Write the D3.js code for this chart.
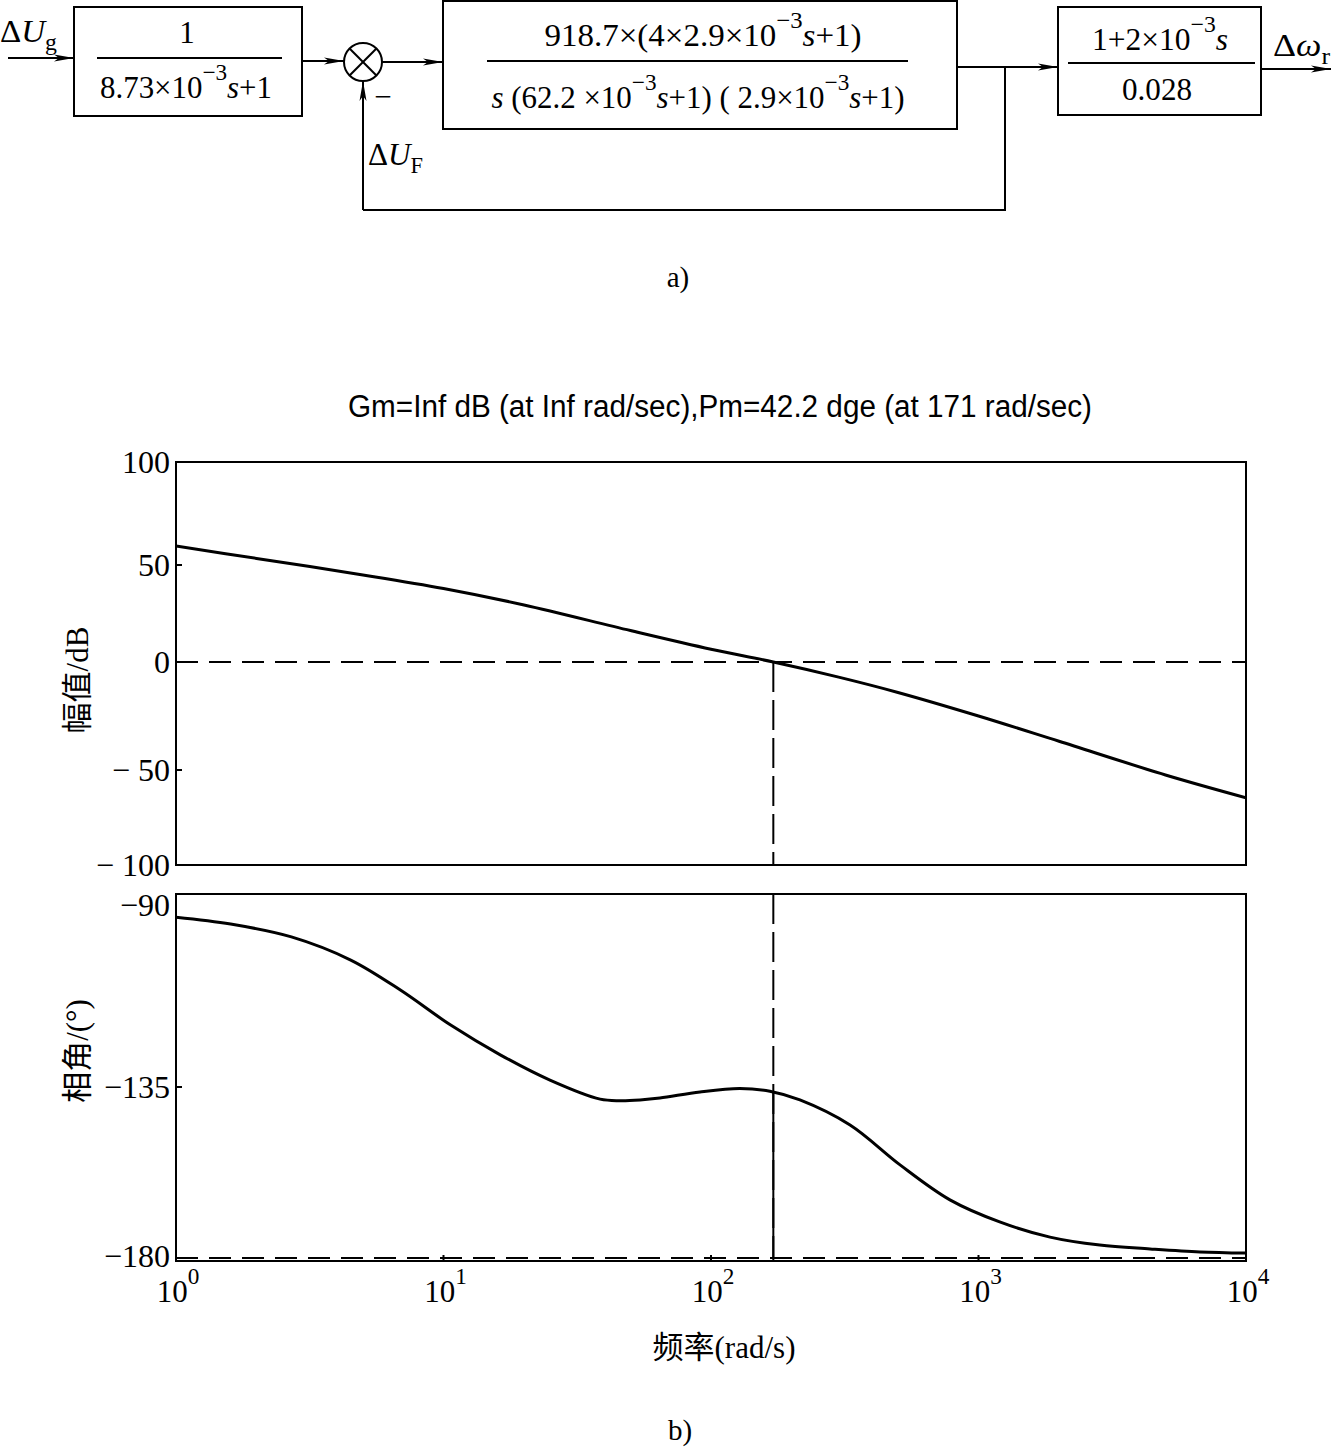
<!DOCTYPE html>
<html><head><meta charset="utf-8">
<script src="https://cdn.jsdelivr.net/npm/d3@7"></script>
<style>body{margin:0;background:#fff}svg{display:block}</style>
</head><body><div id="chart"></div>
<script>
// ---------- data ----------
const freqTicks = [1, 10, 100, 1000, 10000];
const freqTickExp = ["0", "1", "2", "3", "4"];
const magTicks = [100, 50, 0, -50, -100];
const phaseTicks = [-90, -135, -180];
const magFreq = [1, 2, 5, 10, 20, 50, 100, 171, 300, 500, 1000, 2000, 5000, 10000];
const magDb   = [59.2, 53.2, 44.9, 37.9, 29.4, 16.2, 6.6, 0, -7.0, -14.1, -25.0, -36.7, -52.6, -64.6];
const phaseFreq = [1, 1.6, 2.7, 4.5, 6.9, 10.6, 16.3, 25, 38.5, 45.7, 54.3, 64.4, 91, 128, 166, 215, 331, 509, 782, 1200, 1850, 2840, 4380, 6730, 10000];
const phaseDeg  = [-95.4, -97.0, -100.0, -105.4, -112.4, -120.5, -127.5, -133.4, -138.2, -138.6, -138.4, -137.9, -136.3, -135.4, -136.1, -138.4, -145.0, -155.5, -164.7, -170.5, -174.5, -176.6, -177.6, -178.4, -178.7];
const crossFreq = 171;
const phaseMargin = 42.2;
const titleText = "Gm=Inf dB (at Inf rad/sec),Pm=42.2 dge (at 171 rad/sec)";
const magLabel = "幅值/dB";
const phaseLabel = "相角/(°)";
const xLabel = "频率(rad/s)";

const W = 1331, H = 1447;
const SERIF = "'Liberation Serif','Times New Roman',serif";
const CJK = "'Liberation Serif','Noto Sans CJK SC',serif";

const svg = d3.select("#chart").append("svg").attr("width", W).attr("height", H)
  .attr("viewBox", `0 0 ${W} ${H}`);
svg.append("rect").attr("width", W).attr("height", H).attr("fill", "#fff");

const defs = svg.append("defs");
defs.append("marker").attr("id", "arr").attr("viewBox", "0 0 20 10")
  .attr("refX", 20).attr("refY", 5).attr("markerWidth", 20).attr("markerHeight", 10)
  .attr("markerUnits", "userSpaceOnUse").attr("orient", "auto")
  .append("path").attr("d", "M0,1.5 L20,5 L0,8.5 L5,5 Z").attr("fill", "#000");

// rich text helper: parts = [[text, kind]] kind: n, i, sup, sub
function rich(g, x, y, parts, size, anchor, len) {
  const t = g.append("text").attr("x", x).attr("y", y).attr("font-family", SERIF)
    .attr("font-size", size).attr("text-anchor", anchor || "middle").attr("fill", "#000");
  if (len) t.attr("textLength", len).attr("lengthAdjust", "spacingAndGlyphs");
  let shift = 0;
  parts.forEach(([s, k]) => {
    const sp = t.append("tspan").text(s);
    let target = 0;
    if (k === "sup") { target = -size * 0.58; sp.attr("font-size", size * 0.75); }
    else if (k === "sub") { target = size * 0.25; sp.attr("font-size", size * 0.72); }
    if (k === "i") sp.attr("font-style", "italic");
    if (target !== shift) { sp.attr("dy", target - shift); shift = target; }
  });
  return t;
}

// ---------- block diagram (a) ----------
const bd = svg.append("g").attr("stroke", "#000").attr("stroke-width", 2).attr("fill", "none");
const FS = 31;
const boxes = [
  {x: 74, y: 7, w: 228, h: 109},
  {x: 443, y: 1, w: 514, h: 128},
  {x: 1058, y: 7, w: 203, h: 108}
];
boxes.forEach(b => bd.append("rect").attr("x", b.x).attr("y", b.y).attr("width", b.w).attr("height", b.h));
[[97, 282, 58], [487, 908, 61], [1068, 1255, 63]].forEach(([a, b, y]) =>
  bd.append("line").attr("x1", a).attr("x2", b).attr("y1", y).attr("y2", y));
const cx = 363, cy = 62, r = 19;
bd.append("circle").attr("cx", cx).attr("cy", cy).attr("r", r);
const dd = r * Math.SQRT1_2;
bd.append("line").attr("x1", cx - dd).attr("y1", cy - dd).attr("x2", cx + dd).attr("y2", cy + dd);
bd.append("line").attr("x1", cx - dd).attr("y1", cy + dd).attr("x2", cx + dd).attr("y2", cy - dd);
const arrowLine = (pts) => bd.append("path").attr("d", d3.line()(pts)).attr("marker-end", "url(#arr)");
arrowLine([[8, 58], [74, 58]]);
arrowLine([[302, 61], [cx - r, 61]]);
arrowLine([[cx + r, 62], [443, 62]]);
arrowLine([[957, 67], [1058, 67]]);
arrowLine([[1261, 69], [1331, 69]]);
bd.append("path").attr("d", d3.line()([[1005, 67], [1005, 210], [cx, 210]]));
arrowLine([[cx, 210], [cx, cy + r]]);

const tg = svg.append("g");
rich(tg, 187, 43, [["1"]], FS);
rich(tg, 186, 98, [["8.73×10"], ["−3", "sup"], ["s", "i"], ["+1"]], FS, "middle", 172);
rich(tg, 703, 46, [["918.7×(4×2.9×10"], ["−3", "sup"], ["s", "i"], ["+1)"]], FS, "middle", 317);
rich(tg, 698, 108, [["s", "i"], [" (62.2 ×10"], ["−3", "sup"], ["s", "i"], ["+1) ( 2.9×10"], ["−3", "sup"], ["s", "i"], ["+1)"]], FS, "middle", 413);
rich(tg, 1160, 50, [["1+2×10"], ["−3", "sup"], ["s", "i"]], FS, "middle", 136);
rich(tg, 1157, 100, [["0.028"]], FS, "middle", 70);
rich(tg, 0, 42, [["Δ"], ["U", "i"], ["g", "sub"]], FS, "start", 57);
rich(tg, 368, 165, [["Δ"], ["U", "i"], ["F", "sub"]], FS, "start", 55);
rich(tg, 1273, 56, [["Δ"], ["ω", "i"], ["r", "sub"]], FS, "start", 57);
rich(tg, 383, 107, [["−"]], FS, "middle");
rich(tg, 678, 287, [["a)"]], 29);

// ---------- Bode plot (b) ----------
const x = d3.scaleLog().domain([1, 1e4]).range([176, 1246]);
const yMag = d3.scaleLinear().domain([-100, -50, 0, 50, 100]).range([865, 770, 662, 565, 462]);
const yPh = d3.scaleLinear().domain([-180.8, -180, -135, -90]).range([1261, 1258, 1087, 894]);
const magTop = 462, magBot = 865, phTop = 894, phBot = 1261;

svg.append("text").attr("x", 720).attr("y", 417).attr("text-anchor", "middle")
  .attr("font-family", "'Liberation Sans Narrow','Liberation Sans',sans-serif")
  .attr("font-size", 31).attr("textLength", 744).attr("lengthAdjust", "spacingAndGlyphs")
  .text(titleText);

function panel(y, top, bot, ticks, fmt, labelShift, data, clipId) {
  const g = svg.append("g");
  const [x0, x1] = x.range();
  defs.append("clipPath").attr("id", clipId).append("rect")
    .attr("x", x0).attr("y", top).attr("width", x1 - x0).attr("height", bot - top);
  ticks.forEach(v => {
    g.append("line").attr("x1", x0).attr("x2", x0 + 6).attr("y1", y(v)).attr("y2", y(v))
      .attr("stroke", "#000").attr("stroke-width", 2);
    g.append("text").attr("x", x0 - 6).attr("y", y(v) + (labelShift[v] || 0)).attr("dy", "0.35em")
      .attr("text-anchor", "end").attr("font-family", SERIF).attr("font-size", 32).text(fmt(v));
  });
  g.append("path").datum(data).attr("clip-path", `url(#${clipId})`)
    .attr("d", d3.line().x(p => x(p[0])).y(p => y(p[1])).curve(d3.curveCatmullRom.alpha(0.5)))
    .attr("fill", "none").attr("stroke", "#000").attr("stroke-width", 3);
  return g;
}
const gMag = panel(yMag, magTop, magBot, magTicks, v => (v < 0 ? "− " : "") + Math.abs(v), {},
  magFreq.map((f, i) => [f, magDb[i]]), "cm");
const gPh = panel(yPh, phTop, phBot, phaseTicks, v => (v < 0 ? "−" : "") + Math.abs(v), {"-90": 11, "-180": -2},
  phaseFreq.map((f, i) => [f, phaseDeg[i]]), "cp");

const lf = phaseFreq.map(Math.log10);
const phAtCross = d3.scaleLinear().domain(lf).range(phaseDeg)(Math.log10(crossFreq));

const dash = "22,11";
const ln = (g, x1, x2, y1, y2, da) => g.append("line").attr("x1", x1).attr("x2", x2).attr("y1", y1).attr("y2", y2)
  .attr("stroke", "#000").attr("stroke-width", 2).attr("stroke-dasharray", da || null);
ln(gMag, x(1), x(1e4), yMag(0), yMag(0), dash);
ln(gMag, x(crossFreq), x(crossFreq), yMag(0), magBot, "30,8");
ln(gPh, x(1), x(1e4), yPh(-180), yPh(-180), dash);
ln(gPh, x(crossFreq), x(crossFreq), phTop, phBot, "30,8");
ln(gPh, x(crossFreq), x(crossFreq), yPh(-180), yPh(phAtCross));

freqTicks.forEach(f => ln(gPh, x(f), x(f), phBot, phBot - 6));
[[magTop, magBot], [phTop, phBot]].forEach(([t, b]) => {
  svg.append("rect").attr("x", x.range()[0]).attr("y", t)
    .attr("width", x.range()[1] - x.range()[0]).attr("height", b - t)
    .attr("fill", "none").attr("stroke", "#000").attr("stroke-width", 2);
});
freqTicks.forEach((f, i) => rich(svg, x(f) + 2, 1302, [["10"], [freqTickExp[i], "sup"]], 31));

svg.append("text").attr("transform", "translate(88,680) rotate(-90)").attr("text-anchor", "middle")
  .attr("font-family", CJK).attr("font-size", 31).text(magLabel);
svg.append("text").attr("transform", "translate(88,1051) rotate(-90)").attr("text-anchor", "middle")
  .attr("font-family", CJK).attr("font-size", 31).text(phaseLabel);
svg.append("text").attr("x", 724).attr("y", 1358).attr("text-anchor", "middle")
  .attr("font-family", CJK).attr("font-size", 31).text(xLabel);
rich(svg, 680, 1440, [["b)"]], 29);
</script></body></html>
